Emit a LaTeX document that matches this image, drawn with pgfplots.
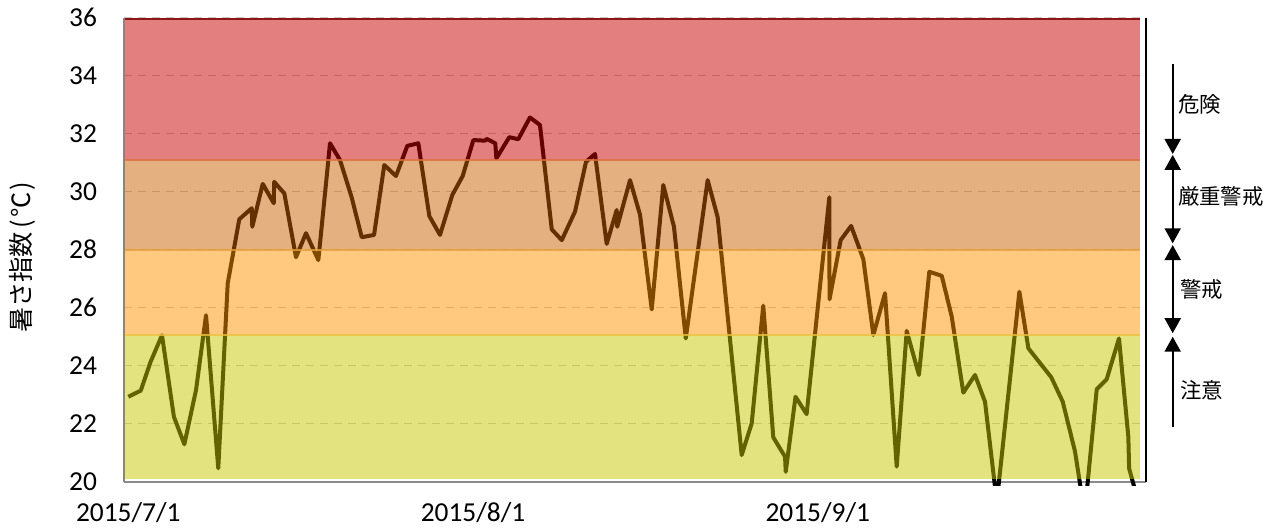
\documentclass[border=0pt]{standalone}
\usepackage{pgfplots}
\pgfplotsset{compat=1.18}
\usepackage{fontspec}
\setmainfont{Carlito}
\newfontfamily\jp{Noto Sans CJK JP}
\usetikzlibrary{arrows.meta}
\definecolor{bRed}{RGB}{200,0,0}
\definecolor{bBrown}{RGB}{203,97,0}
\definecolor{bOrange}{RGB}{255,148,0}
\definecolor{bGreen}{RGB}{199,201,0}
\definecolor{lnTop}{RGB}{140,20,20}
\definecolor{lnRed}{RGB}{224,110,60}
\definecolor{lnOr}{RGB}{232,160,60}
\definecolor{lnGr}{RGB}{240,192,64}
\definecolor{gridc}{RGB}{200,200,200}
\definecolor{axbot}{RGB}{140,140,140}
\definecolor{axleft}{RGB}{134,134,134}

\pgfplotstableread{
d v
0.00 22.93
1.12 23.14
2.01 24.14
3.03 25.05
4.10 22.24
5.04 21.29
6.09 23.16
6.99 25.74
8.09 20.46
8.94 26.84
9.98 29.05
11.10 29.43
11.15 28.79
12.09 30.27
13.08 29.60
13.12 30.34
14.03 29.94
15.08 27.74
15.98 28.57
17.09 27.64
18.14 31.67
19.04 31.09
20.09 29.80
20.99 28.43
22.10 28.51
23.02 30.92
24.07 30.54
25.09 31.58
26.08 31.67
27.07 29.16
28.03 28.51
29.14 29.89
30.07 30.54
31.03 31.78
32.08 31.76
32.23 31.82
33.00 31.67
33.10 31.15
34.26 31.88
35.07 31.81
36.12 32.56
37.02 32.30
38.08 28.70
38.98 28.33
40.17 29.31
41.16 31.03
41.97 31.30
43.02 28.20
43.92 29.37
43.97 28.79
45.12 30.40
46.02 29.20
47.07 25.94
48.11 30.23
49.07 28.79
50.13 24.94
52.10 30.40
53.00 29.12
55.16 20.92
56.06 22.01
57.10 26.07
58.00 21.53
59.06 20.86
59.12 20.34
60.00 22.93
61.00 22.33
63.04 29.81
63.06 26.29
64.06 28.33
65.00 28.82
66.10 27.67
67.00 25.06
68.05 26.50
69.10 20.52
70.00 25.20
71.10 23.68
72.03 27.24
73.15 27.10
74.05 25.69
75.09 23.07
76.14 23.68
77.04 22.76
78.10 19.30
80.13 26.55
80.94 24.60
83.00 23.60
84.03 22.76
85.14 21.03
86.00 18.90
87.09 23.19
87.98 23.53
89.09 24.94
89.93 21.55
90.00 20.46
90.90 19.20
}\wbgt

\begin{document}
\begin{tikzpicture}
\path[use as bounding box] (-62pt,-24.15pt) rectangle (576.5pt,240.85pt);
\begin{axis}[
  at={(0pt,0pt)}, anchor=south west,
  scale only axis, width=511pt, height=232pt,
  xmin=-0.387, xmax=91.52, ymin=20, ymax=36,
  clip=false,
  axis line style={draw=none},
  ytick={20,22,...,36},
  xtick={0,31,62},
  xticklabels={2015/7/1,2015/8/1,2015/9/1},
  major tick length=0pt,
  ymajorgrids,
  grid style={gridc, line width=0.75pt, dash pattern=on 4pt off 3pt},
  tick label style={font=\fontsize{13.7}{16}\selectfont},
  /pgf/number format/assume math mode=true,
  yticklabel style={xshift=-10pt},
  xticklabel style={yshift=-7pt},
  ylabel={\jp 暑さ指数\hspace{0.12em}(\hspace{0.1em}℃\hspace{0.1em})},
  ylabel style={at={(axis description cs:-0.0993,0.484)}, anchor=center, font=\fontsize{12.6}{15}\selectfont},
]
% bottom axis line
\draw[axbot, line width=1.1pt] (axis description cs:0,0) -- (axis description cs:1,0);
% data line
\begin{scope}
\clip (axis cs:-0.387,19.88) rectangle (axis cs:91.52,36.3);
\addplot[black, line width=2pt, line join=round, mark=none] table[x=d, y=v] {\wbgt};
\end{scope}
% bands
\addplot[draw=none, fill=bGreen, fill opacity=0.5] coordinates {(-0.387,20.08) (90.98,20.08) (90.98,25.05) (-0.387,25.05)} -- cycle;
\addplot[draw=none, fill=bOrange, fill opacity=0.5] coordinates {(-0.387,25.05) (90.98,25.05) (90.98,28) (-0.387,28)} -- cycle;
\addplot[draw=none, fill=bBrown, fill opacity=0.5] coordinates {(-0.387,28) (90.98,28) (90.98,31.1) (-0.387,31.1)} -- cycle;
\addplot[draw=none, fill=bRed, fill opacity=0.5] coordinates {(-0.387,31.1) (90.98,31.1) (90.98,36) (-0.387,36)} -- cycle;
% band borders
\addplot[lnGr, line width=1pt, draw opacity=0.8, mark=none] coordinates {(-0.387,25.05) (90.98,25.05)};
\addplot[lnOr, line width=1pt, draw opacity=0.8, mark=none] coordinates {(-0.387,28) (90.98,28)};
\addplot[lnRed, line width=1pt, draw opacity=0.8, mark=none] coordinates {(-0.387,31.1) (90.98,31.1)};
\addplot[lnTop, line width=1pt, mark=none] coordinates {(-0.387,35.97) (90.98,35.97)};
% left and right axis lines
\draw[axleft, line width=1.1pt] (axis description cs:0,0) -- (axis description cs:0,1);
\draw[black, line width=1pt] (axis description cs:1,0) -- (axis description cs:1,1);
% right annotations
\begin{scope}[line width=1pt, black]
\draw[-{Triangle[length=7.5pt,width=8pt]}] (axis cs:93.92,34.40) -- (axis cs:93.92,31.30);
\draw[{Triangle[length=7.5pt,width=8pt]}-{Triangle[length=7.5pt,width=8pt]}] (axis cs:93.92,31.27) -- (axis cs:93.92,28.22);
\draw[{Triangle[length=7.5pt,width=8pt]}-{Triangle[length=7.5pt,width=8pt]}] (axis cs:93.92,28.16) -- (axis cs:93.92,25.12);
\draw[{Triangle[length=7.5pt,width=8pt]}-] (axis cs:93.92,25.00) -- (axis cs:93.92,21.90);
\end{scope}
\node[anchor=west, inner sep=0pt, font=\jp\fontsize{10.7}{12}\selectfont] at (axis cs:94.37,33.01) {危険};
\node[anchor=west, inner sep=0pt, font=\jp\fontsize{10.7}{12}\selectfont] at (axis cs:94.37,29.83) {厳重警戒};
\node[anchor=west, inner sep=0pt, font=\jp\fontsize{10.7}{12}\selectfont] at (axis cs:94.58,26.63) {警戒};
\node[anchor=west, inner sep=0pt, font=\jp\fontsize{10.7}{12}\selectfont] at (axis cs:94.58,23.16) {注意};
\end{axis}
\end{tikzpicture}
\end{document}
